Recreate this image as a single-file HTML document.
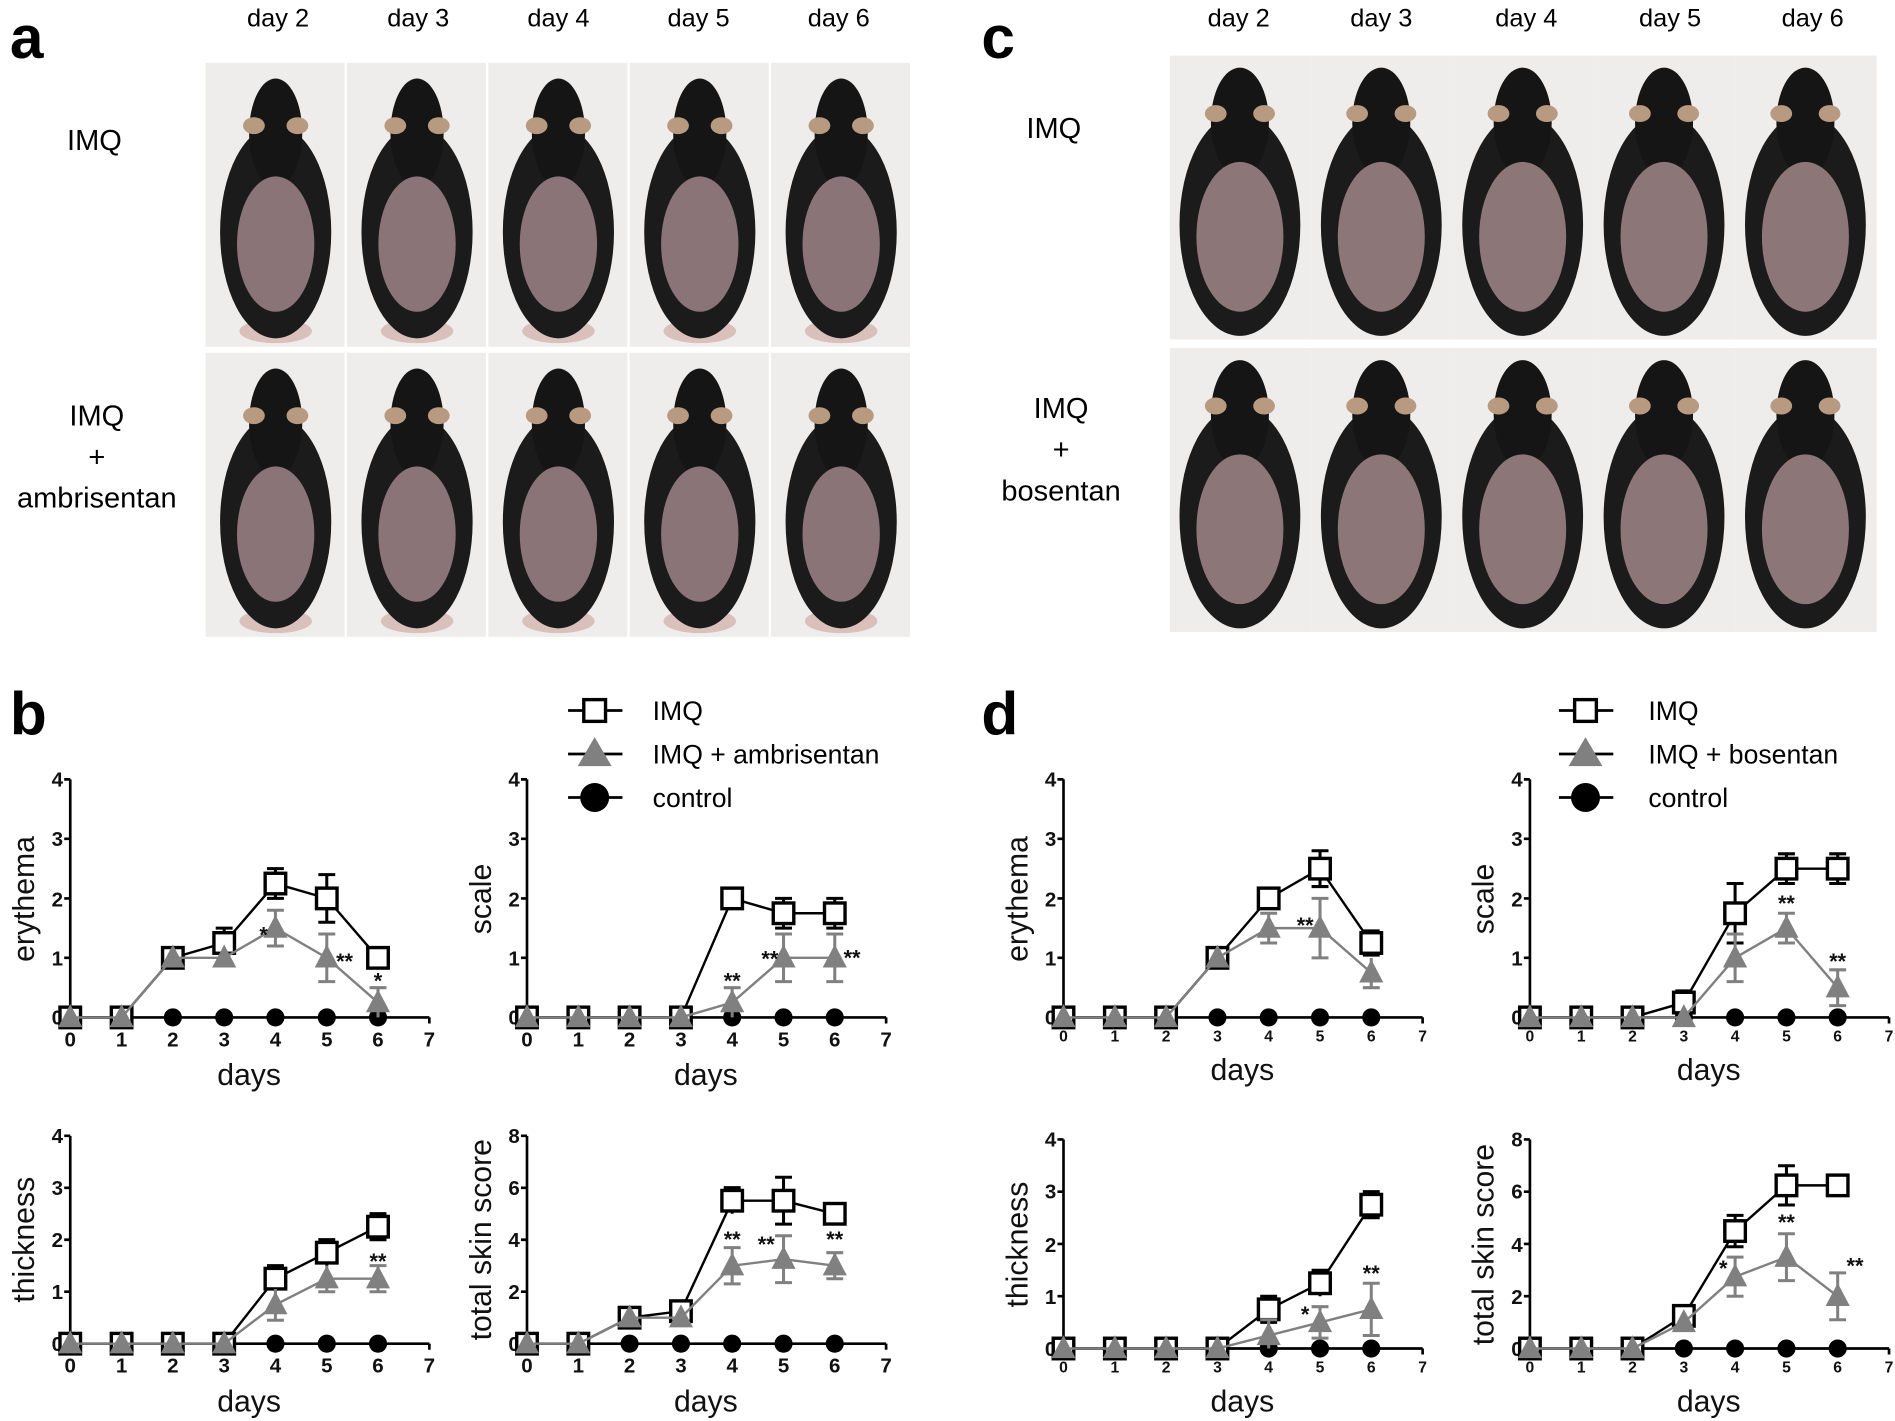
<!DOCTYPE html>
<html><head><meta charset="utf-8"><style>
html,body{margin:0;padding:0;background:#fff}
svg{display:block}
text{font-family:"Liberation Sans",sans-serif}
.t{font-size:17px;font-weight:bold;fill:#111}
.ts{font-size:13px;font-weight:bold;fill:#111}
.ti{font-size:25px;fill:#111}
.st{font-size:18px;font-weight:bold;fill:#111}
.ax{stroke:#000;stroke-width:2.2;fill:none}
.li{stroke:#000;stroke-width:2;fill:none}
.lg{stroke:#808080;stroke-width:2;fill:none}
.eb{stroke:#000;stroke-width:2.5;fill:none}
.eg{stroke:#808080;stroke-width:2.5;fill:none}
</style></head><body>
<svg width="1895" height="1421" viewBox="0 0 1568 1176" xmlns="http://www.w3.org/2000/svg">
<defs>
<rect id="sq" x="-8.5" y="-8.5" width="17" height="17" fill="#fff" stroke="#000" stroke-width="2.8"/>
<path id="tri" d="M0,-11 L10,8 L-10,8 Z" fill="#808080"/>
<circle id="ci" r="7.5" fill="#000"/>
<g id="mouse">
<rect x="0" y="0" width="115" height="235" fill="#efedeb"/>
<ellipse cx="58" cy="222" rx="30" ry="10" fill="#d9c0bb"/>
<ellipse cx="58" cy="140" rx="46" ry="88" fill="#1b1b1b"/>
<ellipse cx="58" cy="58" rx="22" ry="45" fill="#151515"/>
<ellipse cx="40" cy="52" rx="9" ry="7" fill="#b89a80"/>
<ellipse cx="76" cy="52" rx="9" ry="7" fill="#b89a80"/>
<ellipse cx="58" cy="150" rx="32" ry="56" fill="#8a7477"/>
</g>
<g id="mouse2">
<rect x="0" y="0" width="117" height="235" fill="#efedeb"/>
<ellipse cx="58" cy="140" rx="50" ry="92" fill="#1b1b1b"/>
<ellipse cx="58" cy="55" rx="24" ry="45" fill="#151515"/>
<ellipse cx="38" cy="48" rx="9" ry="7" fill="#b89a80"/>
<ellipse cx="78" cy="48" rx="9" ry="7" fill="#b89a80"/>
<ellipse cx="58" cy="150" rx="36" ry="62" fill="#8c7677"/>
</g>
</defs>

<!-- panel labels -->
<text x="8" y="48" style="font-size:50px;font-weight:bold">a</text>
<text x="8" y="608" style="font-size:50px;font-weight:bold">b</text>
<text x="812" y="48" style="font-size:50px;font-weight:bold">c</text>
<text x="812" y="608" style="font-size:50px;font-weight:bold">d</text>

<!-- day headers -->
<g style="font-size:21px" text-anchor="middle">
<text x="230" y="22">day 2</text><text x="346" y="22">day 3</text><text x="462" y="22">day 4</text><text x="578" y="22">day 5</text><text x="694" y="22">day 6</text>
<text x="1025" y="22">day 2</text><text x="1143" y="22">day 3</text><text x="1263" y="22">day 4</text><text x="1382" y="22">day 5</text><text x="1500" y="22">day 6</text>
</g>
<g style="font-size:24px" text-anchor="middle">
<text x="78" y="124">IMQ</text>
<text x="80" y="352">IMQ</text><text x="80" y="386">+</text><text x="80" y="420">ambrisentan</text>
<text x="872" y="114">IMQ</text>
<text x="878" y="346">IMQ</text><text x="878" y="380">+</text><text x="878" y="414">bosentan</text>
</g>

<!-- photos a -->
<use href="#mouse" x="170" y="52"/><use href="#mouse" x="287" y="52"/><use href="#mouse" x="404" y="52"/><use href="#mouse" x="521" y="52"/><use href="#mouse" x="638" y="52"/>
<use href="#mouse" x="170" y="292"/><use href="#mouse" x="287" y="292"/><use href="#mouse" x="404" y="292"/><use href="#mouse" x="521" y="292"/><use href="#mouse" x="638" y="292"/>
<!-- photos c -->
<use href="#mouse2" x="968" y="46" transform="translate(0,0)"/><use href="#mouse2" x="1085" y="46"/><use href="#mouse2" x="1202" y="46"/><use href="#mouse2" x="1319" y="46"/><use href="#mouse2" x="1436" y="46"/>
<use href="#mouse2" x="968" y="288"/><use href="#mouse2" x="1085" y="288"/><use href="#mouse2" x="1202" y="288"/><use href="#mouse2" x="1319" y="288"/><use href="#mouse2" x="1436" y="288"/>

<!-- legends -->
<g>
<path d="M470,588 H515 M470,624 H515 M470,660 H515" class="ax"/>
<use href="#sq" x="492" y="588" transform="translate(-0,0)"/>
<rect x="483" y="579" width="18" height="18" fill="#fff" stroke="#000" stroke-width="2.8"/>
<path d="M492,610 L506,634 L478,634 Z" fill="#808080"/>
<circle cx="492" cy="660" r="12" fill="#000"/>
<g style="font-size:22px"><text x="540" y="596">IMQ</text><text x="540" y="632">IMQ + ambrisentan</text><text x="540" y="668">control</text></g>
<path d="M1290,588 H1335 M1290,624 H1335 M1290,660 H1335" class="ax"/>
<rect x="1303" y="579" width="18" height="18" fill="#fff" stroke="#000" stroke-width="2.8"/>
<path d="M1312,610 L1326,634 L1298,634 Z" fill="#808080"/>
<circle cx="1312" cy="660" r="12" fill="#000"/>
<g style="font-size:22px"><text x="1364" y="596">IMQ</text><text x="1364" y="632">IMQ + bosentan</text><text x="1364" y="668">control</text></g>
</g>

<!-- ========== b erythema ========== -->
<g transform="translate(58,842)">
<path class="ax" d="M0,-197 V0 H297.2 M-5,-197 H0 M-5,-147.8 H0 M-5,-98.5 H0 M-5,-49.3 H0 M0,0 V5 M42.5,0 V5 M84.9,0 V5 M127.4,0 V5 M169.8,0 V5 M212.3,0 V5 M254.7,0 V5 M297.2,0 V5"/>
<g class="t" text-anchor="end"><text x="-6" y="-191">4</text><text x="-6" y="-142">3</text><text x="-6" y="-92">2</text><text x="-6" y="-43">1</text><text x="-6" y="6">0</text></g>
<g class="t" text-anchor="middle"><text x="0" y="24">0</text><text x="42.5" y="24">1</text><text x="84.9" y="24">2</text><text x="127.4" y="24">3</text><text x="169.8" y="24">4</text><text x="212.3" y="24">5</text><text x="254.7" y="24">6</text><text x="297.2" y="24">7</text></g>
<text class="ti" x="148" y="56" text-anchor="middle">days</text>
<text class="ti" transform="translate(-30,-98) rotate(-90)" text-anchor="middle">erythema</text>
<g><use href="#ci" x="0" y="0"/><use href="#ci" x="42.5" y="0"/><use href="#ci" x="84.9" y="0"/><use href="#ci" x="127.4" y="0"/><use href="#ci" x="169.8" y="0"/><use href="#ci" x="212.3" y="0"/><use href="#ci" x="254.7" y="0"/></g>
<polyline class="li" points="0,0 42.5,0 84.9,-49.3 127.4,-61.6 169.8,-110.8 212.3,-98.5 254.7,-49.3"/>
<path class="eb" d="M127.4,-49.3V-73.9M120.4,-73.9h14 M169.8,-98.5V-123.1M162.8,-123.1h14M162.8,-98.5h14 M212.3,-78.8V-118.2M205.3,-118.2h14M205.3,-78.8h14"/>
<use href="#sq" x="0" y="0"/><use href="#sq" x="42.5" y="0"/><use href="#sq" x="84.9" y="-49.3"/><use href="#sq" x="127.4" y="-61.6"/><use href="#sq" x="169.8" y="-110.8"/><use href="#sq" x="212.3" y="-98.5"/><use href="#sq" x="254.7" y="-49.3"/>
<polyline class="lg" points="0,0 42.5,0 84.9,-49.3 127.4,-49.3 169.8,-73.9 212.3,-49.3 254.7,-12.3"/>
<path class="eg" d="M169.8,-59.1V-88.7M162.8,-59.1h14M162.8,-88.7h14 M212.3,-29.6V-69M205.3,-29.6h14M205.3,-69h14 M254.7,0V-24.6M247.7,-24.6h14"/>
<use href="#tri" x="0" y="0"/><use href="#tri" x="42.5" y="0"/><use href="#tri" x="84.9" y="-49.3"/><use href="#tri" x="127.4" y="-49.3"/><use href="#tri" x="169.8" y="-73.9"/><use href="#tri" x="212.3" y="-49.3"/><use href="#tri" x="254.7" y="-12.3"/>
<text class="st" x="160" y="-62" text-anchor="middle">*</text><text class="st" x="220" y="-40">**</text><text class="st" x="254.7" y="-24" text-anchor="middle">*</text>
</g>

<!-- ========== b scale ========== -->
<g transform="translate(436,842)">
<path class="ax" d="M0,-197 V0 H297.2 M-5,-197 H0 M-5,-147.8 H0 M-5,-98.5 H0 M-5,-49.3 H0 M0,0 V5 M42.5,0 V5 M84.9,0 V5 M127.4,0 V5 M169.8,0 V5 M212.3,0 V5 M254.7,0 V5 M297.2,0 V5"/>
<g class="t" text-anchor="end"><text x="-6" y="-191">4</text><text x="-6" y="-142">3</text><text x="-6" y="-92">2</text><text x="-6" y="-43">1</text><text x="-6" y="6">0</text></g>
<g class="t" text-anchor="middle"><text x="0" y="24">0</text><text x="42.5" y="24">1</text><text x="84.9" y="24">2</text><text x="127.4" y="24">3</text><text x="169.8" y="24">4</text><text x="212.3" y="24">5</text><text x="254.7" y="24">6</text><text x="297.2" y="24">7</text></g>
<text class="ti" x="148" y="56" text-anchor="middle">days</text>
<text class="ti" transform="translate(-30,-98) rotate(-90)" text-anchor="middle">scale</text>
<use href="#ci" x="0" y="0"/><use href="#ci" x="42.5" y="0"/><use href="#ci" x="84.9" y="0"/><use href="#ci" x="127.4" y="0"/><use href="#ci" x="169.8" y="0"/><use href="#ci" x="212.3" y="0"/><use href="#ci" x="254.7" y="0"/>
<polyline class="li" points="0,0 42.5,0 84.9,0 127.4,0 169.8,-98.5 212.3,-86.2 254.7,-86.2"/>
<path class="eb" d="M212.3,-73.9V-98.5M205.3,-73.9h14M205.3,-98.5h14 M254.7,-73.9V-98.5M247.7,-73.9h14M247.7,-98.5h14"/>
<use href="#sq" x="0" y="0"/><use href="#sq" x="42.5" y="0"/><use href="#sq" x="84.9" y="0"/><use href="#sq" x="127.4" y="0"/><use href="#sq" x="169.8" y="-98.5"/><use href="#sq" x="212.3" y="-86.2"/><use href="#sq" x="254.7" y="-86.2"/>
<polyline class="lg" points="0,0 42.5,0 84.9,0 127.4,0 169.8,-12.3 212.3,-49.3 254.7,-49.3"/>
<path class="eg" d="M169.8,0V-24.6M162.8,-24.6h14 M212.3,-29.6V-69M205.3,-29.6h14M205.3,-69h14 M254.7,-29.6V-69M247.7,-29.6h14M247.7,-69h14"/>
<use href="#tri" x="0" y="0"/><use href="#tri" x="42.5" y="0"/><use href="#tri" x="84.9" y="0"/><use href="#tri" x="127.4" y="0"/><use href="#tri" x="169.8" y="-12.3"/><use href="#tri" x="212.3" y="-49.3"/><use href="#tri" x="254.7" y="-49.3"/>
<text class="st" x="169.8" y="-24" text-anchor="middle">**</text><text class="st" x="208" y="-42" text-anchor="end">**</text><text class="st" x="262" y="-43">**</text>
</g>

<!-- ========== b thickness ========== -->
<g transform="translate(58,1112)">
<path class="ax" d="M0,-172 V0 H297.2 M-5,-172 H0 M-5,-129 H0 M-5,-86 H0 M-5,-43 H0 M0,0 V5 M42.5,0 V5 M84.9,0 V5 M127.4,0 V5 M169.8,0 V5 M212.3,0 V5 M254.7,0 V5 M297.2,0 V5"/>
<g class="t" text-anchor="end"><text x="-6" y="-166">4</text><text x="-6" y="-123">3</text><text x="-6" y="-80">2</text><text x="-6" y="-37">1</text><text x="-6" y="6">0</text></g>
<g class="t" text-anchor="middle"><text x="0" y="24">0</text><text x="42.5" y="24">1</text><text x="84.9" y="24">2</text><text x="127.4" y="24">3</text><text x="169.8" y="24">4</text><text x="212.3" y="24">5</text><text x="254.7" y="24">6</text><text x="297.2" y="24">7</text></g>
<text class="ti" x="148" y="56" text-anchor="middle">days</text>
<text class="ti" transform="translate(-30,-86) rotate(-90)" text-anchor="middle">thickness</text>
<use href="#ci" x="0" y="0"/><use href="#ci" x="42.5" y="0"/><use href="#ci" x="84.9" y="0"/><use href="#ci" x="127.4" y="0"/><use href="#ci" x="169.8" y="0"/><use href="#ci" x="212.3" y="0"/><use href="#ci" x="254.7" y="0"/>
<polyline class="li" points="0,0 42.5,0 84.9,0 127.4,0 169.8,-53.8 212.3,-75.3 254.7,-96.8"/>
<path class="eb" d="M169.8,-43V-64.6M162.8,-64.6h14 M212.3,-64.5V-86.1M205.3,-86.1h14 M254.7,-86V-107.6M247.7,-107.6h14M247.7,-86h14"/>
<use href="#sq" x="0" y="0"/><use href="#sq" x="42.5" y="0"/><use href="#sq" x="84.9" y="0"/><use href="#sq" x="127.4" y="0"/><use href="#sq" x="169.8" y="-53.8"/><use href="#sq" x="212.3" y="-75.3"/><use href="#sq" x="254.7" y="-96.8"/>
<polyline class="lg" points="0,0 42.5,0 84.9,0 127.4,0 169.8,-32.3 212.3,-53.8 254.7,-53.8"/>
<path class="eg" d="M169.8,-19.4V-45.2M162.8,-19.4h14 M212.3,-43V-64.6M205.3,-43h14 M254.7,-43V-64.6M247.7,-43h14M247.7,-64.6h14"/>
<use href="#tri" x="0" y="0"/><use href="#tri" x="42.5" y="0"/><use href="#tri" x="84.9" y="0"/><use href="#tri" x="127.4" y="0"/><use href="#tri" x="169.8" y="-32.3"/><use href="#tri" x="212.3" y="-53.8"/><use href="#tri" x="254.7" y="-53.8"/>
<text class="st" x="254.7" y="-62" text-anchor="middle">**</text>
</g>

<!-- ========== b total ========== -->
<g transform="translate(436,1112)">
<path class="ax" d="M0,-172 V0 H297.2 M-5,-172 H0 M-5,-129 H0 M-5,-86 H0 M-5,-43 H0 M0,0 V5 M42.5,0 V5 M84.9,0 V5 M127.4,0 V5 M169.8,0 V5 M212.3,0 V5 M254.7,0 V5 M297.2,0 V5"/>
<g class="t" text-anchor="end"><text x="-6" y="-166">8</text><text x="-6" y="-123">6</text><text x="-6" y="-80">4</text><text x="-6" y="-37">2</text><text x="-6" y="6">0</text></g>
<g class="t" text-anchor="middle"><text x="0" y="24">0</text><text x="42.5" y="24">1</text><text x="84.9" y="24">2</text><text x="127.4" y="24">3</text><text x="169.8" y="24">4</text><text x="212.3" y="24">5</text><text x="254.7" y="24">6</text><text x="297.2" y="24">7</text></g>
<text class="ti" x="148" y="56" text-anchor="middle">days</text>
<text class="ti" transform="translate(-30,-86) rotate(-90)" text-anchor="middle">total skin score</text>
<use href="#ci" x="0" y="0"/><use href="#ci" x="42.5" y="0"/><use href="#ci" x="84.9" y="0"/><use href="#ci" x="127.4" y="0"/><use href="#ci" x="169.8" y="0"/><use href="#ci" x="212.3" y="0"/><use href="#ci" x="254.7" y="0"/>
<polyline class="li" points="0,0 42.5,0 84.9,-21.5 127.4,-26.9 169.8,-118.3 212.3,-118.3 254.7,-107.5"/>
<path class="eb" d="M169.8,-107.5V-129.1M162.8,-129.1h14 M212.3,-98.9V-137.7M205.3,-137.7h14M205.3,-98.9h14 M254.7,-101V-114M247.7,-114h14M247.7,-101h14"/>
<use href="#sq" x="0" y="0"/><use href="#sq" x="42.5" y="0"/><use href="#sq" x="84.9" y="-21.5"/><use href="#sq" x="127.4" y="-26.9"/><use href="#sq" x="169.8" y="-118.3"/><use href="#sq" x="212.3" y="-118.3"/><use href="#sq" x="254.7" y="-107.5"/>
<polyline class="lg" points="0,0 42.5,0 84.9,-21.5 127.4,-21.5 169.8,-64.5 212.3,-69.9 254.7,-64.5"/>
<path class="eg" d="M169.8,-49.5V-79.5M162.8,-49.5h14M162.8,-79.5h14 M212.3,-50.5V-89.3M205.3,-50.5h14M205.3,-89.3h14 M254.7,-53.7V-75.3M247.7,-53.7h14M247.7,-75.3h14"/>
<use href="#tri" x="0" y="0"/><use href="#tri" x="42.5" y="0"/><use href="#tri" x="84.9" y="-21.5"/><use href="#tri" x="127.4" y="-21.5"/><use href="#tri" x="169.8" y="-64.5"/><use href="#tri" x="212.3" y="-69.9"/><use href="#tri" x="254.7" y="-64.5"/>
<text class="st" x="169.8" y="-80" text-anchor="middle">**</text><text class="st" x="198" y="-76" text-anchor="middle">**</text><text class="st" x="254.7" y="-80" text-anchor="middle">**</text>
</g>

<!-- ========== d erythema ========== -->
<g transform="translate(880,842)">
<path class="ax" d="M0,-197 V0 H297.2 M-5,-197 H0 M-5,-147.8 H0 M-5,-98.5 H0 M-5,-49.3 H0 M0,0 V5 M42.5,0 V5 M84.9,0 V5 M127.4,0 V5 M169.8,0 V5 M212.3,0 V5 M254.7,0 V5 M297.2,0 V5"/>
<g class="t" text-anchor="end"><text x="-6" y="-191">4</text><text x="-6" y="-142">3</text><text x="-6" y="-92">2</text><text x="-6" y="-43">1</text><text x="-6" y="6">0</text></g>
<g class="ts" text-anchor="middle"><text x="0" y="20">0</text><text x="42.5" y="20">1</text><text x="84.9" y="20">2</text><text x="127.4" y="20">3</text><text x="169.8" y="20">4</text><text x="212.3" y="20">5</text><text x="254.7" y="20">6</text><text x="297.2" y="20">7</text></g>
<text class="ti" x="148" y="52" text-anchor="middle">days</text>
<text class="ti" transform="translate(-30,-98) rotate(-90)" text-anchor="middle">erythema</text>
<use href="#ci" x="0" y="0"/><use href="#ci" x="42.5" y="0"/><use href="#ci" x="84.9" y="0"/><use href="#ci" x="127.4" y="0"/><use href="#ci" x="169.8" y="0"/><use href="#ci" x="212.3" y="0"/><use href="#ci" x="254.7" y="0"/>
<polyline class="li" points="0,0 42.5,0 84.9,0 127.4,-49.3 169.8,-98.5 212.3,-123.1 254.7,-61.6"/>
<path class="eb" d="M212.3,-108.3V-137.9M205.3,-137.9h14M205.3,-108.3h14 M254.7,-51.6V-71.6M247.7,-71.6h14M247.7,-51.6h14"/>
<use href="#sq" x="0" y="0"/><use href="#sq" x="42.5" y="0"/><use href="#sq" x="84.9" y="0"/><use href="#sq" x="127.4" y="-49.3"/><use href="#sq" x="169.8" y="-98.5"/><use href="#sq" x="212.3" y="-123.1"/><use href="#sq" x="254.7" y="-61.6"/>
<polyline class="lg" points="0,0 42.5,0 84.9,0 127.4,-49.3 169.8,-73.9 212.3,-73.9 254.7,-36.9"/>
<path class="eg" d="M169.8,-61.6V-86.2M162.8,-61.6h14M162.8,-86.2h14 M212.3,-49.3V-98.5M205.3,-49.3h14M205.3,-98.5h14 M254.7,-24.6V-49.2M247.7,-24.6h14"/>
<use href="#tri" x="0" y="0"/><use href="#tri" x="42.5" y="0"/><use href="#tri" x="84.9" y="0"/><use href="#tri" x="127.4" y="-49.3"/><use href="#tri" x="169.8" y="-73.9"/><use href="#tri" x="212.3" y="-73.9"/><use href="#tri" x="254.7" y="-36.9"/>
<text class="st" x="200" y="-70" text-anchor="middle">**</text>
</g>

<!-- ========== d scale ========== -->
<g transform="translate(1266,842)">
<path class="ax" d="M0,-197 V0 H297.2 M-5,-197 H0 M-5,-147.8 H0 M-5,-98.5 H0 M-5,-49.3 H0 M0,0 V5 M42.5,0 V5 M84.9,0 V5 M127.4,0 V5 M169.8,0 V5 M212.3,0 V5 M254.7,0 V5 M297.2,0 V5"/>
<g class="t" text-anchor="end"><text x="-6" y="-191">4</text><text x="-6" y="-142">3</text><text x="-6" y="-92">2</text><text x="-6" y="-43">1</text><text x="-6" y="6">0</text></g>
<g class="ts" text-anchor="middle"><text x="0" y="20">0</text><text x="42.5" y="20">1</text><text x="84.9" y="20">2</text><text x="127.4" y="20">3</text><text x="169.8" y="20">4</text><text x="212.3" y="20">5</text><text x="254.7" y="20">6</text><text x="297.2" y="20">7</text></g>
<text class="ti" x="148" y="52" text-anchor="middle">days</text>
<text class="ti" transform="translate(-30,-98) rotate(-90)" text-anchor="middle">scale</text>
<use href="#ci" x="0" y="0"/><use href="#ci" x="42.5" y="0"/><use href="#ci" x="84.9" y="0"/><use href="#ci" x="127.4" y="0"/><use href="#ci" x="169.8" y="0"/><use href="#ci" x="212.3" y="0"/><use href="#ci" x="254.7" y="0"/>
<polyline class="li" points="0,0 42.5,0 84.9,0 127.4,-12.3 169.8,-86.2 212.3,-123.1 254.7,-123.1"/>
<path class="eb" d="M127.4,-2V-22M120.4,-22h14 M169.8,-61.6V-110.8M162.8,-110.8h14M162.8,-61.6h14 M212.3,-110.8V-135.4M205.3,-135.4h14M205.3,-110.8h14 M254.7,-110.8V-135.4M247.7,-135.4h14M247.7,-110.8h14"/>
<use href="#sq" x="0" y="0"/><use href="#sq" x="42.5" y="0"/><use href="#sq" x="84.9" y="0"/><use href="#sq" x="127.4" y="-12.3"/><use href="#sq" x="169.8" y="-86.2"/><use href="#sq" x="212.3" y="-123.1"/><use href="#sq" x="254.7" y="-123.1"/>
<polyline class="lg" points="0,0 42.5,0 84.9,0 127.4,0 169.8,-49.3 212.3,-73.9 254.7,-24.6"/>
<path class="eg" d="M169.8,-29.6V-69M162.8,-29.6h14M162.8,-69h14 M212.3,-61.6V-86.2M205.3,-61.6h14M205.3,-86.2h14 M254.7,-9.8V-39.4M247.7,-9.8h14M247.7,-39.4h14"/>
<use href="#tri" x="0" y="0"/><use href="#tri" x="42.5" y="0"/><use href="#tri" x="84.9" y="0"/><use href="#tri" x="127.4" y="0"/><use href="#tri" x="169.8" y="-49.3"/><use href="#tri" x="212.3" y="-73.9"/><use href="#tri" x="254.7" y="-24.6"/>
<text class="st" x="212.3" y="-88" text-anchor="middle">**</text><text class="st" x="254.7" y="-40" text-anchor="middle">**</text>
</g>

<!-- ========== d thickness ========== -->
<g transform="translate(880,1116)">
<path class="ax" d="M0,-173 V0 H297.2 M-5,-173 H0 M-5,-129.8 H0 M-5,-86.5 H0 M-5,-43.3 H0 M0,0 V5 M42.5,0 V5 M84.9,0 V5 M127.4,0 V5 M169.8,0 V5 M212.3,0 V5 M254.7,0 V5 M297.2,0 V5"/>
<g class="t" text-anchor="end"><text x="-6" y="-167">4</text><text x="-6" y="-124">3</text><text x="-6" y="-80">2</text><text x="-6" y="-37">1</text><text x="-6" y="6">0</text></g>
<g class="ts" text-anchor="middle"><text x="0" y="20">0</text><text x="42.5" y="20">1</text><text x="84.9" y="20">2</text><text x="127.4" y="20">3</text><text x="169.8" y="20">4</text><text x="212.3" y="20">5</text><text x="254.7" y="20">6</text><text x="297.2" y="20">7</text></g>
<text class="ti" x="148" y="52" text-anchor="middle">days</text>
<text class="ti" transform="translate(-30,-86) rotate(-90)" text-anchor="middle">thickness</text>
<use href="#ci" x="0" y="0"/><use href="#ci" x="42.5" y="0"/><use href="#ci" x="84.9" y="0"/><use href="#ci" x="127.4" y="0"/><use href="#ci" x="169.8" y="0"/><use href="#ci" x="212.3" y="0"/><use href="#ci" x="254.7" y="0"/>
<polyline class="li" points="0,0 42.5,0 84.9,0 127.4,0 169.8,-32.4 212.3,-54 254.7,-119"/>
<path class="eb" d="M169.8,-21.6V-43.2M162.8,-43.2h14M162.8,-21.6h14 M212.3,-43.2V-64.8M205.3,-64.8h14 M254.7,-108.2V-129.8M247.7,-129.8h14M247.7,-108.2h14"/>
<use href="#sq" x="0" y="0"/><use href="#sq" x="42.5" y="0"/><use href="#sq" x="84.9" y="0"/><use href="#sq" x="127.4" y="0"/><use href="#sq" x="169.8" y="-32.4"/><use href="#sq" x="212.3" y="-54"/><use href="#sq" x="254.7" y="-119"/>
<polyline class="lg" points="0,0 42.5,0 84.9,0 127.4,0 169.8,-10.8 212.3,-21.6 254.7,-32.4"/>
<path class="eg" d="M169.8,0V-23.8M162.8,-23.8h14 M212.3,-8.6V-34.6M205.3,-8.6h14M205.3,-34.6h14 M254.7,-10.8V-54M247.7,-10.8h14M247.7,-54h14"/>
<use href="#tri" x="0" y="0"/><use href="#tri" x="42.5" y="0"/><use href="#tri" x="84.9" y="0"/><use href="#tri" x="127.4" y="0"/><use href="#tri" x="169.8" y="-10.8"/><use href="#tri" x="212.3" y="-21.6"/><use href="#tri" x="254.7" y="-32.4"/>
<text class="st" x="200" y="-22" text-anchor="middle">*</text><text class="st" x="254.7" y="-56" text-anchor="middle">**</text>
</g>

<!-- ========== d total ========== -->
<g transform="translate(1266,1116)">
<path class="ax" d="M0,-173 V0 H297.2 M-5,-173 H0 M-5,-129.8 H0 M-5,-86.5 H0 M-5,-43.3 H0 M0,0 V5 M42.5,0 V5 M84.9,0 V5 M127.4,0 V5 M169.8,0 V5 M212.3,0 V5 M254.7,0 V5 M297.2,0 V5"/>
<g class="t" text-anchor="end"><text x="-6" y="-167">8</text><text x="-6" y="-124">6</text><text x="-6" y="-80">4</text><text x="-6" y="-37">2</text><text x="-6" y="6">0</text></g>
<g class="ts" text-anchor="middle"><text x="0" y="20">0</text><text x="42.5" y="20">1</text><text x="84.9" y="20">2</text><text x="127.4" y="20">3</text><text x="169.8" y="20">4</text><text x="212.3" y="20">5</text><text x="254.7" y="20">6</text><text x="297.2" y="20">7</text></g>
<text class="ti" x="148" y="52" text-anchor="middle">days</text>
<text class="ti" transform="translate(-30,-86) rotate(-90)" text-anchor="middle">total skin score</text>
<use href="#ci" x="0" y="0"/><use href="#ci" x="42.5" y="0"/><use href="#ci" x="84.9" y="0"/><use href="#ci" x="127.4" y="0"/><use href="#ci" x="169.8" y="0"/><use href="#ci" x="212.3" y="0"/><use href="#ci" x="254.7" y="0"/>
<polyline class="li" points="0,0 42.5,0 84.9,0 127.4,-27 169.8,-97.2 212.3,-135 254.7,-135"/>
<path class="eb" d="M169.8,-84.2V-110.2M162.8,-110.2h14M162.8,-84.2h14 M212.3,-118.8V-151.2M205.3,-151.2h14M205.3,-118.8h14 M254.7,-131V-139M247.7,-139h14M247.7,-131h14"/>
<use href="#sq" x="0" y="0"/><use href="#sq" x="42.5" y="0"/><use href="#sq" x="84.9" y="0"/><use href="#sq" x="127.4" y="-27"/><use href="#sq" x="169.8" y="-97.2"/><use href="#sq" x="212.3" y="-135"/><use href="#sq" x="254.7" y="-135"/>
<polyline class="lg" points="0,0 42.5,0 84.9,0 127.4,-21.6 169.8,-59.4 212.3,-75.6 254.7,-43.2"/>
<path class="eg" d="M169.8,-43.2V-75.6M162.8,-43.2h14M162.8,-75.6h14 M212.3,-56.2V-95M205.3,-56.2h14M205.3,-95h14 M254.7,-23.8V-62.6M247.7,-23.8h14M247.7,-62.6h14"/>
<use href="#tri" x="0" y="0"/><use href="#tri" x="42.5" y="0"/><use href="#tri" x="84.9" y="0"/><use href="#tri" x="127.4" y="-21.6"/><use href="#tri" x="169.8" y="-59.4"/><use href="#tri" x="212.3" y="-75.6"/><use href="#tri" x="254.7" y="-43.2"/>
<text class="st" x="160" y="-60" text-anchor="middle">*</text><text class="st" x="212.3" y="-98" text-anchor="middle">**</text><text class="st" x="262" y="-62">**</text>
</g>
</svg>
</body></html>
